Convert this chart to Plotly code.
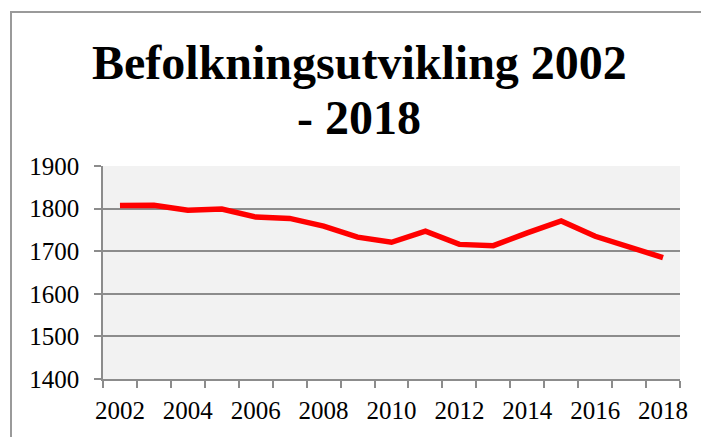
import plotly.graph_objects as go

# Data
years = list(range(2002, 2019))
population = [1807, 1808, 1796, 1799, 1780, 1777, 1759, 1733, 1721, 1747,
              1716, 1713, 1743, 1771, 1735, 1711, 1685]
y_ticks = [1400, 1500, 1600, 1700, 1800, 1900]
x_labels = list(range(2002, 2019, 2))

title_lines = ["Befolkningsutvikling 2002", "- 2018"]

fig = go.Figure()
fig.add_trace(go.Scatter(
    x=years,
    y=population,
    mode="lines",
    line=dict(color="#ff0000", width=5.5),
    showlegend=False,
    hoverinfo="x+y"
))

# plot area in pixels: x 103..680, y 166..379
W, H = 701, 437
L, R, T, B = 103, 21, 166, 58
pw, ph = W - L - R, H - T - B

def px_x(x):
    return (x - L) / pw

def px_y(y):
    return (H - B - y) / ph

axis_gray = "#8c8c8c"
serif = "Liberation Serif, Times New Roman, serif"
tick_font = dict(family=serif, size=25, color="black")
title_font = dict(family=serif, size=48, color="black", weight="bold")

fig.update_layout(
    width=W,
    height=H,
    margin=dict(l=L, r=R, t=T, b=B),
    paper_bgcolor="white",
    plot_bgcolor="#f2f2f2",
    xaxis=dict(
        range=[2001.5, 2018.5],
        tickvals=x_labels,
        ticktext=[str(v) for v in x_labels],
        ticks="",
        ticklabelstandoff=8,
        showgrid=False,
        zeroline=False,
        showline=True,
        linecolor=axis_gray,
        linewidth=1.5,
        tickfont=tick_font,
        minor=dict(ticks="outside", tick0=2001.5, dtick=1, ticklen=7,
                   tickcolor=axis_gray, tickwidth=1.5, showgrid=False),
    ),
    yaxis=dict(
        range=[1400, 1900],
        tickvals=y_ticks,
        ticks="outside",
        ticklen=7,
        tickcolor=axis_gray,
        tickwidth=1.5,
        ticklabelstandoff=10,
        showgrid=True,
        gridcolor=axis_gray,
        gridwidth=1.5,
        zeroline=False,
        showline=True,
        linecolor=axis_gray,
        linewidth=1.5,
        tickfont=tick_font,
    ),
)

# two-line title, placed line by line to match the tight line spacing
for line, centre_y in zip(title_lines, [63, 117]):
    fig.add_annotation(
        text=line,
        xref="paper", yref="paper",
        x=px_x(359), y=px_y(centre_y),
        xanchor="center", yanchor="middle",
        showarrow=False,
        font=title_font,
    )

# outer chart frame (left and top edges visible in the reference)
fig.add_shape(
    type="path",
    xref="paper", yref="paper",
    path=f"M {px_x(11)} {px_y(H + 5)} L {px_x(11)} {px_y(12)} L {px_x(W + 5)} {px_y(12)}",
    line=dict(color="#9a9a9a", width=2),
)

fig.write_html("out.html", config={"displayModeBar": False},
               post_script="document.body.style.margin='0';")
